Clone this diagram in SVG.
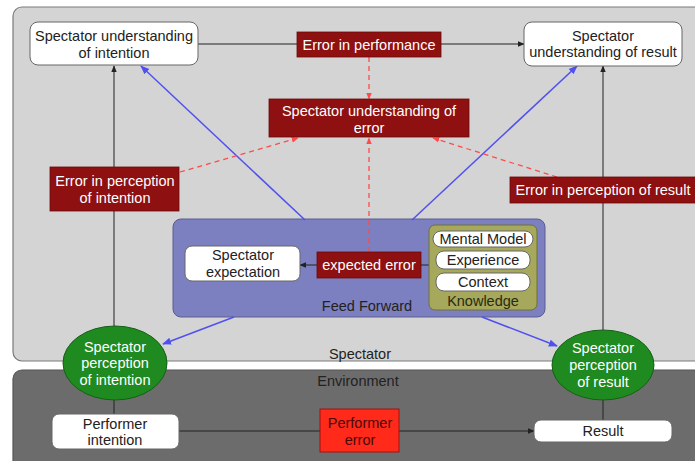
<svg xmlns="http://www.w3.org/2000/svg" width="695" height="461" viewBox="0 0 695 461">
<defs>
<style>
text{font-family:"Liberation Sans",Arial,sans-serif;font-size:14.5px;text-anchor:middle}
.wt{fill:#ffffff}
.dt{fill:#222222}
.wb{fill:#ffffff;stroke:#666666;stroke-width:1}
.rb{fill:#8e1010;stroke:#6a0a0a;stroke-width:0.8}
.gr{fill:#1f8a1f;stroke:#156015;stroke-width:1}
.bl{stroke:#222222;stroke-width:1;fill:none}
.blue{stroke:#5050f0;stroke-width:1.5;fill:none}
.red{stroke:#ff4a4a;stroke-width:1.3;fill:none;stroke-dasharray:5,4}
</style>
<marker id="ab" viewBox="0 0 10 10" refX="9" refY="5" markerWidth="7" markerHeight="7" orient="auto" markerUnits="userSpaceOnUse"><path d="M0,1L10,5L0,9z" fill="#222222"/></marker>
<marker id="au" viewBox="0 0 10 10" refX="9" refY="5" markerWidth="9" markerHeight="9" orient="auto" markerUnits="userSpaceOnUse"><path d="M0,1L10,5L0,9z" fill="#5050f0"/></marker>
<marker id="ar" viewBox="0 0 10 10" refX="9" refY="5" markerWidth="7" markerHeight="7" orient="auto" markerUnits="userSpaceOnUse"><path d="M0,1L10,5L0,9z" fill="#ff4a4a"/></marker>
</defs>
<rect width="695" height="461" fill="#ffffff"/>
<g id="spectator-panel">
<rect x="13" y="7" width="700" height="354" rx="9" fill="#d4d4d4" stroke="#7a7a7a" stroke-width="1.2"/>
<text x="360" y="359" class="dt">Spectator</text>
</g>
<g id="environment-panel">
<rect x="13" y="370" width="700" height="110" rx="9" fill="#6c6c6c" stroke="#555555" stroke-width="1.2"/>
<text x="358" y="386" class="dt">Environment</text>
</g>
<g id="feed-forward">
<rect x="173" y="219" width="372" height="98" rx="8" fill="#7d80c0" stroke="#5a5c90" stroke-width="1"/>
<text x="367" y="311" class="dt">Feed Forward</text>
</g>
<g id="connectors">
<line x1="198" y1="44" x2="297" y2="44" class="bl"/>
<line x1="441" y1="44" x2="524" y2="44" class="bl" marker-end="url(#ab)"/>
<line x1="114" y1="327" x2="114" y2="66" class="bl" marker-end="url(#ab)"/>
<line x1="114" y1="414" x2="114" y2="400" class="bl"/>
<line x1="179" y1="431" x2="320" y2="431" class="bl"/>
<line x1="399" y1="431" x2="534" y2="431" class="bl" marker-end="url(#ab)"/>
<line x1="603" y1="420" x2="603" y2="399" class="bl"/>
<line x1="603" y1="330" x2="603" y2="66" class="bl" marker-end="url(#ab)"/>
<line x1="317" y1="265" x2="300" y2="265" class="bl" marker-end="url(#ab)"/>
<line x1="429" y1="265" x2="421" y2="265" class="bl"/>
<line x1="305" y1="220" x2="141" y2="66" class="blue" marker-end="url(#au)"/>
<line x1="412" y1="220" x2="577" y2="66" class="blue" marker-end="url(#au)"/>
<line x1="234" y1="317" x2="163" y2="344" class="blue" marker-end="url(#au)"/>
<line x1="482" y1="317" x2="557" y2="346" class="blue" marker-end="url(#au)"/>
<line x1="369" y1="57" x2="369" y2="99" class="red" marker-end="url(#ar)"/>
<line x1="369" y1="252" x2="369" y2="138" class="red" marker-end="url(#ar)"/>
<line x1="180" y1="172" x2="298" y2="138" class="red" marker-end="url(#ar)"/>
<line x1="557" y1="177" x2="433" y2="138" class="red" marker-end="url(#ar)"/>
</g>
<g id="understanding-intention">
<rect x="30" y="22" width="168" height="43" rx="8" class="wb"/>
<text x="114" y="41" class="dt">Spectator understanding</text>
<text x="114" y="58" class="dt">of intention</text>
</g>
<g id="error-performance">
<rect x="297" y="32" width="144" height="25" class="rb"/>
<text x="369" y="50" class="wt">Error in performance</text>
</g>
<g id="understanding-result">
<rect x="524" y="22" width="158" height="44" rx="8" class="wb"/>
<text x="603" y="41" class="dt">Spectator</text>
<text x="603" y="57" class="dt">understanding of result</text>
</g>
<g id="understanding-error">
<rect x="269" y="99" width="200" height="38" class="rb"/>
<text x="369" y="116" class="wt">Spectator understanding of</text>
<text x="369" y="133" class="wt">error</text>
</g>
<g id="error-perception-intention">
<rect x="50" y="167" width="129" height="44" class="rb"/>
<text x="115" y="186" class="wt">Error in perception</text>
<text x="115" y="203" class="wt">of intention</text>
</g>
<g id="error-perception-result">
<rect x="510" y="177" width="190" height="26" class="rb"/>
<text x="603" y="195" class="wt">Error in perception of result</text>
</g>
<g id="spectator-expectation">
<rect x="185" y="246" width="115" height="35" rx="7" class="wb"/>
<text x="243" y="260" class="dt">Spectator</text>
<text x="243" y="277" class="dt">expectation</text>
</g>
<g id="expected-error">
<rect x="317" y="252" width="104" height="26" class="rb"/>
<text x="369" y="270" class="wt">expected error</text>
</g>
<g id="knowledge">
<rect x="429" y="225" width="108" height="85" rx="6" fill="#a6a85c" stroke="#6e7035" stroke-width="1"/>
<rect x="433" y="231" width="100" height="16" rx="8" class="wb"/>
<text x="483" y="244" class="dt">Mental Model</text>
<rect x="436" y="251" width="94" height="18" rx="8" class="wb"/>
<text x="483" y="265" class="dt">Experience</text>
<rect x="436" y="273" width="94" height="18" rx="8" class="wb"/>
<text x="483" y="287" class="dt">Context</text>
<text x="483" y="306" fill="#2a2a10">Knowledge</text>
</g>
<g id="perception-intention">
<ellipse cx="115" cy="363" rx="52" ry="37" class="gr"/>
<text x="115" y="352" class="wt">Spectator</text>
<text x="115" y="368" class="wt">perception</text>
<text x="115" y="385" class="wt">of intention</text>
</g>
<g id="perception-result">
<ellipse cx="603" cy="365" rx="51" ry="35" class="gr"/>
<text x="603" y="353" class="wt">Spectator</text>
<text x="603" y="370" class="wt">perception</text>
<text x="603" y="387" class="wt">of result</text>
</g>
<g id="performer-intention">
<rect x="52" y="414" width="127" height="35" rx="7" class="wb"/>
<text x="115" y="429" class="dt">Performer</text>
<text x="115" y="445" class="dt">intention</text>
</g>
<g id="performer-error">
<rect x="320" y="409" width="79" height="43" fill="#ff2a1a" stroke="#a01010" stroke-width="1"/>
<text x="360" y="428" fill="#4a0808">Performer</text>
<text x="360" y="445" fill="#4a0808">error</text>
</g>
<g id="result">
<rect x="534" y="420" width="138" height="22" rx="7" class="wb"/>
<text x="603" y="436" class="dt">Result</text>
</g>
</svg>
